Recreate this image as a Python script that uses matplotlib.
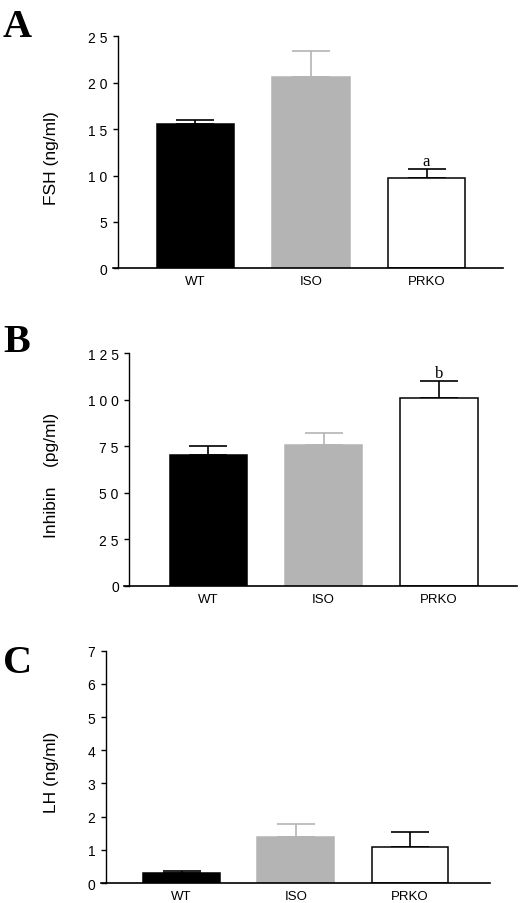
import matplotlib
matplotlib.use("Agg")
import matplotlib.pyplot as plt

plt.rcParams["font.family"] = ["Liberation Sans", "DejaVu Sans"]

groups = ["WT", "ISO", "PRKO"]
colors = ["black", "#b4b4b4", "white"]
edge_colors = ["black", "#b4b4b4", "black"]
err_colors = ["black", "#b4b4b4", "black"]

# panel A: FSH
fsh = [15.6, 20.6, 9.75]
fsh_err = [0.4, 2.8, 0.95]
fsh_ticks = [0, 5, 10, 15, 20, 25]
fsh_ticklabels = ["0", "5", "1 0", "1 5", "2 0", "2 5"]

# panel B: Inhibin
inh = [70.3, 75.8, 100.8]
inh_err = [5.0, 6.2, 9.5]
inh_ticks = [0, 25, 50, 75, 100, 125]
inh_ticklabels = ["0", "2 5", "5 0", "7 5", "1 0 0", "1 2 5"]

# panel C: LH
lh = [0.29, 1.39, 1.09]
lh_err = [0.07, 0.39, 0.45]
lh_ticks = [0, 1, 2, 3, 4, 5, 6, 7]
lh_ticklabels = ["0", "1", "2", "3", "4", "5", "6", "7"]

fig = plt.figure(figsize=(5.2, 9.04), dpi=100)

panels = [
    # rect, xlim, values, errors, ticks, ticklabels, ylabel, labelx, letter, letter_y, mark
    ([0.2269, 0.7021, 0.7404, 0.2566], (-0.671, 2.662), fsh, fsh_err, fsh_ticks,
     fsh_ticklabels, "FSH (ng/ml)", -0.153, "A", 1 - 37 / 904, "a"),
    ([0.2487, 0.3510, 0.7450, 0.2571], (-0.685, 2.675), inh, inh_err, inh_ticks,
     inh_ticklabels, "Inhibin    (pg/ml)", -0.181, "B", 1 - 352 / 904, "b"),
    ([0.2038, 0.0221, 0.7385, 0.2570], (-0.662, 2.70), lh, lh_err, lh_ticks,
     lh_ticklabels, "LH (ng/ml)", -0.122, "C", 1 - 673 / 904, None),
]

for rect, xlim, vals, errs, ticks, tlabels, ylabel, labelx, letter, ly, mark in panels:
    ax = fig.add_axes(rect)
    x = list(range(len(groups)))
    ax.bar(x, vals, width=0.672, color=colors, edgecolor=edge_colors, linewidth=1.1, zorder=2)
    for i in x:
        ax.errorbar(i, vals[i], yerr=[[0], [errs[i]]], fmt="none", ecolor=err_colors[i],
                    elinewidth=1.2, capsize=14, capthick=1.2, zorder=1)
    if mark:
        ax.text(2, vals[2] + errs[2], mark, ha="center", va="bottom",
                family=["Liberation Serif", "DejaVu Serif"], fontsize=12)
    ax.set_xlim(*xlim)
    ax.set_ylim(0, ticks[-1])
    ax.set_yticks(ticks)
    ax.set_yticklabels(tlabels)
    ax.set_xticks(x)
    ax.set_xticklabels(groups)
    ax.tick_params(axis="x", length=0, pad=5, labelsize=9.5)
    ax.tick_params(axis="y", length=3.6, width=1, pad=4, labelsize=10)
    for s in ["top", "right"]:
        ax.spines[s].set_visible(False)
    ax.spines["left"].set_linewidth(1)
    ax.spines["bottom"].set_linewidth(1.2)
    # bottom line runs a bit past the y axis, as in the original
    ax.plot([-0.013, 0], [0, 0], transform=ax.transAxes, color="black", lw=1.2, clip_on=False)
    ax.set_ylabel(ylabel, fontsize=12.5)
    ax.yaxis.set_label_coords(labelx, 0.48)
    fig.text(0.006, ly, letter, family=["Liberation Serif", "DejaVu Serif"],
             fontweight="bold", fontsize=29, va="baseline", ha="left")

fig.savefig("out.png", dpi=100)
